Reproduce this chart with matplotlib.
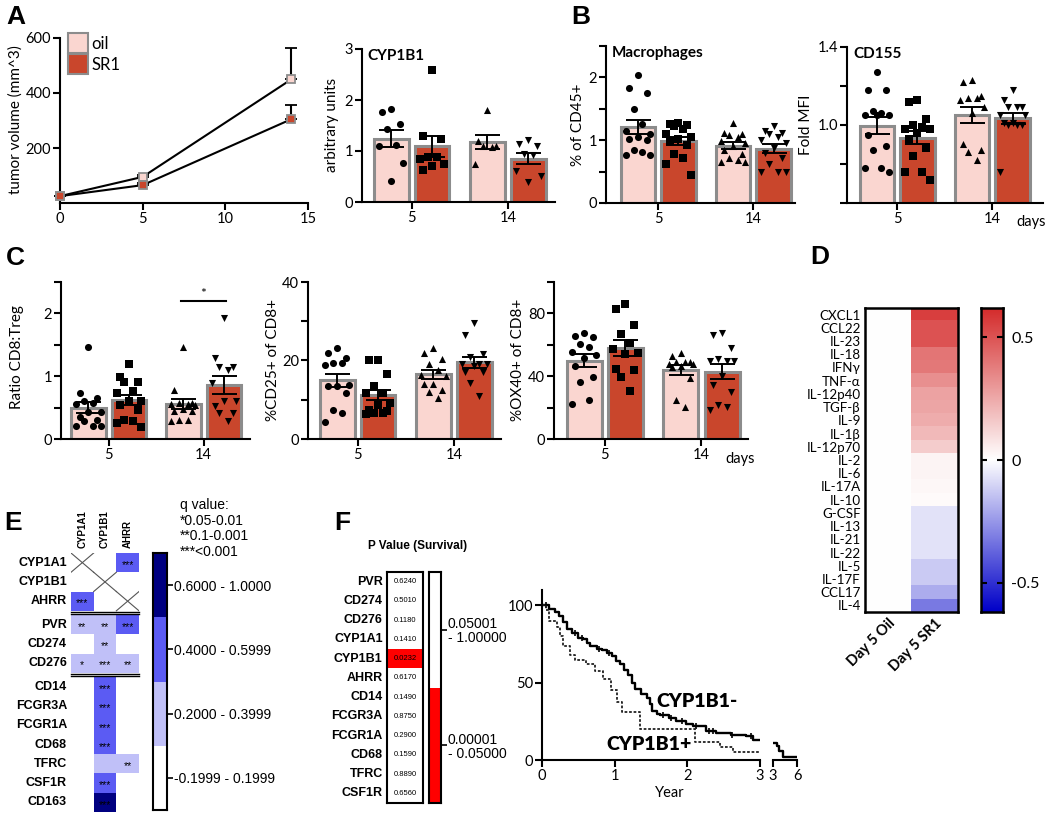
import numpy as np
import matplotlib
matplotlib.use('Agg')
import matplotlib.pyplot as plt
from matplotlib.colors import LinearSegmentedColormap
from matplotlib.patches import Rectangle
from matplotlib.lines import Line2D

W, H = 1050, 813
plt.rcParams['font.family'] = ['Lato', 'DejaVu Sans']
plt.rcParams['axes.linewidth'] = 1.5

# ---------------- data ----------------
# A: tumour volume
days = [0, 5, 14]
vol_oil = [25, 95, 450]
vol_oil_err = [0, 8, 115]
vol_sr1 = [25, 65, 305]
vol_sr1_err = [0, 6, 50]

# bar panels: groups are oil d5, SR1 d5, oil d14, SR1 d14
cyp_oil5 = [1.77, 1.83, 1.53, 1.44, 1.09, 1.12, 0.77, 0.41]
cyp_sr5 = [2.58, 1.30, 1.24, 0.88, 0.88, 0.85, 0.74, 0.71, 0.62]
cyp_oil14 = [1.80, 1.20, 1.10, 1.08, 1.10, 0.75]
cyp_sr14 = [1.21, 1.13, 1.10, 0.95, 0.92, 0.60, 0.50, 0.40]

mac_oil5 = [2.04, 1.83, 1.75, 1.50, 1.25, 1.15, 1.10, 1.05, 1.02, 1.00, 0.85, 0.82, 0.77, 0.77]
mac_sr5 = [1.27, 1.25, 1.24, 1.22, 1.18, 1.10, 1.05, 1.02, 0.98, 0.92, 0.78, 0.72, 0.62, 0.45]
mac_oil14 = [1.27, 1.12, 1.10, 1.08, 1.05, 0.98, 0.95, 0.90, 0.85, 0.78, 0.72, 0.68, 0.66, 0.65]
mac_sr14 = [1.22, 1.15, 1.12, 1.10, 1.05, 1.00, 0.95, 0.88, 0.80, 0.72, 0.62, 0.50, 0.50, 0.50]

cd155_oil5 = [1.27, 1.18, 1.18, 1.07, 1.06, 1.05, 1.05, 1.05, 0.95, 0.89, 0.87, 0.78, 0.76, 0.78]
cd155_sr5 = [1.13, 1.12, 1.03, 1.00, 0.99, 0.98, 0.96, 0.93, 0.88, 0.84, 0.76, 0.76, 0.72, 0.98]
cd155_oil14 = [1.23, 1.22, 1.15, 1.14, 1.14, 1.13, 1.09, 1.06, 0.90, 0.87, 0.86, 0.82]
cd155_sr14 = [1.18, 1.13, 1.09, 1.09, 1.09, 1.05, 1.05, 1.01, 1.00, 1.00, 1.00, 1.01, 0.76]

ratio_oil5 = [1.47, 0.74, 0.60, 0.58, 0.66, 0.56, 0.43, 0.43, 0.35, 0.30, 0.28, 0.21, 0.20, 0.21]
ratio_sr5 = [1.19, 0.99, 0.90, 0.90, 0.76, 0.73, 0.60, 0.60, 0.54, 0.46, 0.30, 0.26, 0.28, 0.19]
ratio_oil14 = [1.46, 0.78, 0.57, 0.55, 0.57, 0.54, 0.55, 0.47, 0.44, 0.44, 0.30, 0.29, 0.31]
ratio_sr14 = [1.93, 1.29, 1.15, 1.15, 1.10, 0.89, 0.60, 0.60, 0.52, 0.41, 0.41, 0.28]

cd25_oil5 = [23.2, 20.7, 21.9, 19.3, 18.9, 19.3, 13.7, 13.5, 13.5, 11.6, 7.3, 6.7, 4.4]
cd25_sr5 = [20.0, 20.2, 16.6, 11.7, 13.4, 11.6, 8.6, 9.2, 7.2, 7.5, 6.7, 6.3, 6.7]
cd25_oil14 = [21.9, 23.2, 20.4, 19.0, 17.5, 16.0, 16.2, 14.1, 14.1, 12.0, 10.5, 12.4]
cd25_sr14 = [29.5, 26.6, 21.7, 20.8, 19.2, 19.2, 18.7, 19.2, 17.0, 17.0, 14.3, 11.0]

ox40_oil5 = [67.8, 65.2, 65.7, 60.3, 58.8, 55.4, 51.8, 53.3, 46.4, 39.6, 36.1, 22.2, 25.0]
ox40_sr5 = [86.0, 82.8, 72.5, 66.7, 61.4, 57.5, 55.0, 53.9, 43.9, 44.9, 39.4, 30.4]
ox40_oil14 = [54.5, 52.8, 49.0, 49.0, 49.0, 48.0, 46.0, 46.4, 47.5, 38.9, 25.0, 20.3]
ox40_sr14 = [67.8, 66.1, 57.8, 51.1, 49.6, 49.6, 49.6, 40.4, 34.7, 29.7, 21.8, 20.7, 18.6]

# D: cytokine heatmap (Day 5 Oil is the reference = 0)
cytokines = ['CXCL1', 'CCL22', 'IL-23', 'IL-18', 'IFNγ', 'TNF-α', 'IL-12p40', 'TGF-β',
             'IL-9', 'IL-1β', 'IL-12p70', 'IL-2', 'IL-6', 'IL-17A', 'IL-10', 'G-CSF',
             'IL-13', 'IL-21', 'IL-22', 'IL-5', 'IL-17F', 'CCL17', 'IL-4']
cyto_oil = [0.0] * len(cytokines)
cyto_sr1 = [0.56, 0.50, 0.50, 0.40, 0.39, 0.32, 0.27, 0.26, 0.24, 0.20, 0.15, 0.03,
            0.03, 0.02, 0.01, -0.07, -0.07, -0.07, -0.07, -0.13, -0.13, -0.20, -0.32]
heat_cols = ['Day 5 Oil', 'Day 5 SR1']

# E: correlation matrix (level 0 none, 1 light, 2 medium, 3 dark, -1 diagonal)
e_rows = ['CYP1A1', 'CYP1B1', 'AHRR', 'PVR', 'CD274', 'CD276', 'CD14', 'FCGR3A',
          'FCGR1A', 'CD68', 'TFRC', 'CSF1R', 'CD163']
e_cols = ['CYP1A1', 'CYP1B1', 'AHRR']
e_level = [[-1, 0, 2], [0, -1, 0], [2, 0, -1], [1, 1, 2], [0, 1, 0], [1, 1, 1],
           [0, 2, 0], [0, 2, 0], [0, 2, 0], [0, 2, 0], [0, 1, 1], [0, 2, 0], [0, 3, 0]]
e_stars = [['', '', '***'], ['', '', ''], ['***', '', ''], ['**', '**', '***'],
           ['', '**', ''], ['*', '***', '**'], ['', '***', ''], ['', '***', ''],
           ['', '***', ''], ['', '***', ''], ['', '', '**'], ['', '***', ''], ['', '***', '']]
e_legend = ['-0.1999 - 0.1999', '0.2000 - 0.3999', '0.4000 - 0.5999', '0.6000 - 1.0000']

# F: survival p values
f_genes = ['PVR', 'CD274', 'CD276', 'CYP1A1', 'CYP1B1', 'AHRR', 'CD14', 'FCGR3A',
           'FCGR1A', 'CD68', 'TFRC', 'CSF1R']
f_pvals = ['0.6240', '0.5010', '0.1180', '0.1410', '0.0232', '0.6170', '0.1490',
           '0.8750', '0.2900', '0.1590', '0.8890', '0.6560']

km_neg_t = [0.00, 0.10, 0.18, 0.24, 0.29, 0.35, 0.41, 0.50, 0.56, 0.62, 0.66, 0.75, 0.82,
            0.90, 0.96, 1.02, 1.07, 1.13, 1.19, 1.24, 1.28, 1.36, 1.44, 1.48, 1.51, 1.58,
            1.62, 1.75, 1.85, 1.98, 2.08, 2.25, 2.40, 2.60, 2.81, 2.90, 3.00]
km_neg_s = [100, 98, 96, 93, 89, 85, 82, 79, 78.5, 76, 74, 72, 71, 69, 67, 64, 62, 58, 55,
            50, 46, 43, 40, 36, 32, 30, 29, 27, 25, 23, 21.7, 19, 17.4, 16.5, 15.3, 13, 12.8]
km_neg_cens = [0.05, 0.45, 0.55, 0.79, 0.92, 1.66, 1.78, 1.93, 2.12, 2.30, 2.36, 2.62, 2.88]
km_neg_t2 = [3.0, 3.5, 3.8, 4.2, 6.0]
km_neg_s2 = [11, 9, 6, 2, 2]
km_pos_t = [0.00, 0.06, 0.09, 0.20, 0.25, 0.29, 0.38, 0.45, 0.61, 0.73, 0.84, 0.95, 1.03,
            1.10, 1.35, 2.10, 2.45, 2.63, 3.00]
km_pos_s = [100, 97, 90, 86, 80, 73.5, 68, 65, 62, 57.8, 52.5, 45, 37.4, 31, 20.2, 11.6,
            8.4, 5.2, 5.2]

# ---------------- figure ----------------
fig = plt.figure(figsize=(W / 100, H / 100), dpi=100)

OIL_C, SR1_C, EDGE = '#fad6d0', '#c9462c', '#8c8c8c'
POS = [0, 1, 2.35, 3.35]
MARKERS = ['o', 's', '^', 'v']


def px_axes(x0, y0, x1, y1):
    return fig.add_axes([x0 / W, 1 - y1 / H, (x1 - x0) / W, (y1 - y0) / H])


def px_text(x, y, s, **kw):
    fig.text(x / W, 1 - y / H, s, **kw)


def clean(ax):
    ax.spines['top'].set_visible(False)
    ax.spines['right'].set_visible(False)
    ax.tick_params(direction='out', length=5, width=1.5, labelsize=10.5, pad=1.5)


def jitter(vals):
    pattern = np.array([0.0, -0.22, 0.22, -0.11, 0.11, -0.3, 0.3])
    order = np.argsort(-np.asarray(vals))
    offs = np.empty(len(vals))
    offs[order] = pattern[np.arange(len(vals)) % len(pattern)]
    return offs


def bar_panel(box, groups, xlim, ylim, yticks, ylabels, title=None, days_lbl=False):
    ax = px_axes(*box)
    for i, vals in enumerate(groups):
        vals = np.asarray(vals, dtype=float)
        m = vals.mean()
        sem = vals.std(ddof=1) / np.sqrt(len(vals))
        ax.bar(POS[i], m, width=0.85, color=[OIL_C, SR1_C][i % 2],
               edgecolor=EDGE, linewidth=2.2, zorder=1)
        ax.scatter(POS[i] + jitter(vals), vals, marker=MARKERS[i], s=26,
                   color='black', zorder=3, clip_on=False, linewidths=0)
        ax.errorbar(POS[i], m, yerr=sem, color='black', capsize=9, lw=1.4,
                    capthick=1.4, zorder=4)
    ax.set_xlim(*xlim)
    ax.set_ylim(*ylim)
    ax.set_yticks(yticks)
    ax.set_yticklabels(ylabels)
    ax.set_xticks([0.5, 2.85])
    ax.set_xticklabels(['5', '14'])
    clean(ax)
    if title:
        ax.text(0.03, 1.0, title, transform=ax.transAxes, fontsize=11,
                weight='bold', va='top', ha='left')
    if days_lbl:
        ax.text(3.8, -0.08, 'days', transform=ax.get_xaxis_transform(),
                fontsize=10.5, ha='center', va='top')
    return ax


# ---- A: tumour volume ----
ax = px_axes(60, 38, 308, 203)
ax.errorbar(days, vol_oil, yerr=[[0] * 3, vol_oil_err], color='black', lw=1.5,
            capsize=4, capthick=1.3, marker='s', ms=6, mfc=OIL_C, mec=EDGE,
            mew=1.3, clip_on=False, zorder=3)
ax.errorbar(days, vol_sr1, yerr=[[0] * 3, vol_sr1_err], color='black', lw=1.5,
            capsize=4, capthick=1.3, marker='s', ms=6, mfc=SR1_C, mec=EDGE,
            mew=1.3, clip_on=False, zorder=3)
ax.set_xlim(0, 15)
ax.set_ylim(0, 600)
ax.set_xticks([0, 5, 10, 15])
ax.set_yticks([200, 400, 600])
clean(ax)
handles = [Line2D([], [], marker='s', ls='', ms=15, mfc=OIL_C, mec=EDGE, mew=1.5),
           Line2D([], [], marker='s', ls='', ms=15, mfc=SR1_C, mec=EDGE, mew=1.5)]
fig.legend(handles, ['oil', 'SR1'], loc='upper left', bbox_to_anchor=(66 / W, 1 - 36 / H),
           frameon=False, fontsize=12, handletextpad=0.1, labelspacing=0.3,
           borderaxespad=0, borderpad=0, handlelength=1.4)
px_text(16, 120, 'tumor volume (mm^3)', rotation=90, ha='center', va='center', fontsize=11)

bar_panel((362, 49, 555, 202), [cyp_oil5, cyp_sr5, cyp_oil14, cyp_sr14],
          (-0.71, 4.0), (0, 3), [0, 1, 2, 3], ['0', '1', '2', '3'], title='CYP1B1')
px_text(332, 125, 'arbitrary units', rotation=90, ha='center', va='center', fontsize=11)

# ---- B ----
bar_panel((606, 46, 795, 203), [mac_oil5, mac_sr5, mac_oil14, mac_sr14],
          (-0.79, 3.88), (0, 2.5), [0, 0.5, 1, 1.5, 2, 2.5], ['0', '', '1', '', '2', ''],
          title='Macrophages')
px_text(578, 125, '% of CD45+', rotation=90, ha='center', va='center', fontsize=11)

bar_panel((847, 47, 1043, 203), [cd155_oil5, cd155_sr5, cd155_oil14, cd155_sr14],
          (-0.74, 4.1), (0.6, 1.4), [0.6, 0.8, 1.0, 1.2, 1.4], ['', '', '1.0', '', '1.4'],
          title='CD155', days_lbl=True)
px_text(806, 125, 'Fold MFI', rotation=90, ha='center', va='center', fontsize=11)

# ---- C ----
axc = bar_panel((61, 282, 250, 439), [ratio_oil5, ratio_sr5, ratio_oil14, ratio_sr14],
                (-0.68, 4.0), (0, 2.5), [0, 0.5, 1, 1.5, 2, 2.5], ['0', '', '1', '', '2', ''])
axc.plot([POS[2] - 0.05, POS[3] + 0.05], [2.2, 2.2], color='black', lw=1.5)
axc.text((POS[2] + POS[3]) / 2, 2.22, '*', ha='center', va='bottom', fontsize=10)
px_text(17, 357, 'Ratio CD8:Treg', rotation=90, ha='center', va='center', fontsize=11)

bar_panel((308, 282, 501, 439), [cd25_oil5, cd25_sr5, cd25_oil14, cd25_sr14],
          (-0.71, 4.0), (0, 40), [0, 10, 20, 30, 40], ['0', '', '20', '', '40'])
px_text(273, 360, '%CD25+ of CD8+', rotation=90, ha='center', va='center', fontsize=11)

bar_panel((554, 282, 748, 439), [ox40_oil5, ox40_sr5, ox40_oil14, ox40_sr14],
          (-0.73, 3.98), (0, 100), [0, 20, 40, 60, 80, 100], ['0', '', '40', '', '80', ''],
          days_lbl=True)
px_text(518, 360, '%OX40+ of CD8+', rotation=90, ha='center', va='center', fontsize=11)

# ---- D: heatmap ----
VMAX = 0.62
hcmap = LinearSegmentedColormap.from_list('bwr2', ['#0000c8', '#ffffff', '#d42a2a'])
axd = px_axes(865, 308, 958, 612)
grid = np.column_stack([cyto_oil, cyto_sr1])
axd.imshow(grid, cmap=hcmap, vmin=-VMAX, vmax=VMAX, aspect='auto', interpolation='nearest')
axd.set_yticks(range(len(cytokines)))
axd.set_yticklabels(cytokines, fontsize=9.6)
axd.set_xticks([0, 1])
axd.set_xticklabels(heat_cols, rotation=45, ha='right', rotation_mode='anchor',
                    fontsize=10.5, weight='bold')
axd.tick_params(length=0, pad=3)
for s in axd.spines.values():
    s.set_linewidth(1.8)

axcb = px_axes(981, 308, 1003, 612)
grad = np.linspace(VMAX, -VMAX, 256).reshape(-1, 1)
axcb.imshow(grad, cmap=hcmap, vmin=-VMAX, vmax=VMAX, aspect='auto',
            extent=[0, 1, -VMAX, VMAX])
axcb.set_xticks([])
axcb.set_yticks([-0.5, 0, 0.5])
axcb.set_yticklabels(['-0.5', '0', '0.5'])
axcb.yaxis.set_ticks_position('both')
axcb.tick_params(axis='y', direction='in', length=4, width=1.5, labelleft=False,
                 labelright=True, labelsize=11.5, pad=6)
for s in axcb.spines.values():
    s.set_linewidth(1.8)

# ---- E: correlation matrix ----
E_COLORS = {0: 'white', 1: '#c0c0f8', 2: '#5b5bf3', 3: '#000080'}
GAP = 0.22
e_y = [i + GAP * (i >= 3) + GAP * (i >= 6) for i in range(len(e_rows))]
axe = px_axes(71, 553, 139, 812)
axe.set_xlim(0, 3)
axe.set_ylim(len(e_rows) + 2 * GAP, 0)
axe.axis('off')
for i, row in enumerate(e_rows):
    y = e_y[i]
    for j in range(3):
        lvl = e_level[i][j]
        if lvl == -1:
            axe.plot([j, j + 1], [y, y + 1], color='#555555', lw=0.8)
            axe.plot([j, j + 1], [y + 1, y], color='#555555', lw=0.8)
        elif lvl > 0:
            axe.add_patch(Rectangle((j, y), 1, 1, fc=E_COLORS[lvl], ec='none'))
        if e_stars[i][j]:
            axe.text(j + 0.5, y + 0.62, e_stars[i][j], ha='center', va='center',
                     fontsize=7.5, color='black', family='Liberation Sans')
    axe.text(-0.18, y + 0.5, row, ha='right', va='center', fontsize=9,
             weight='bold', family='Liberation Sans', clip_on=False)
for k in (3, 6):
    mid = e_y[k] - GAP / 2
    for d in (-0.06, 0.06):
        axe.plot([0, 3], [mid + d, mid + d], color='black', lw=1.0, clip_on=False)
for j, col in enumerate(e_cols):
    axe.text(j + 0.5, -0.25, col, rotation=90, ha='center', va='bottom', fontsize=7,
             weight='bold', family='Liberation Sans', clip_on=False)

axel = px_axes(153, 553, 167, 810)
for k, lvl in enumerate([0, 1, 2, 3]):
    axel.add_patch(Rectangle((0, k), 1, 1, fc=E_COLORS[lvl], ec='none'))
axel.set_xlim(0, 1)
axel.set_ylim(0, 4)
axel.set_xticks([])
axel.set_yticks([0.5, 1.5, 2.5, 3.5])
axel.set_yticklabels(e_legend, fontfamily='Liberation Sans')
axel.yaxis.tick_right()
axel.tick_params(axis='y', direction='out', length=4, width=1.2, labelsize=10, pad=1)
for s in axel.spines.values():
    s.set_linewidth(1.5)
px_text(180, 498, 'q value:\n*0.05-0.01\n**0.1-0.001\n***<0.001', ha='left', va='top',
        fontsize=10, family='Liberation Sans', linespacing=1.15)

# ---- F: p value table ----
axf = px_axes(387, 572, 423, 803)
axf.set_xlim(0, 1)
axf.set_ylim(len(f_genes), 0)
axf.set_xticks([])
axf.set_yticks([])
for i, (g, p) in enumerate(zip(f_genes, f_pvals)):
    if float(p) < 0.05:
        axf.add_patch(Rectangle((0, i), 1, 1, fc='#ff0000', ec='none'))
    axf.text(0.5, i + 0.5, p, ha='center', va='center', fontsize=5.5,
             family='Liberation Sans')
    axf.text(-0.12, i + 0.5, g, ha='right', va='center', fontsize=9, weight='bold',
             family='Liberation Sans', clip_on=False)
for s in axf.spines.values():
    s.set_linewidth(1.5)
px_text(418, 546, 'P Value (Survival)', ha='center', va='center', fontsize=8.5,
        weight='bold', family='Liberation Sans')

axfl = px_axes(429, 572, 441, 803)
axfl.add_patch(Rectangle((0, 0), 1, 1, fc='#ff0000', ec='none'))
axfl.set_xlim(0, 1)
axfl.set_ylim(0, 2)
axfl.set_xticks([])
axfl.set_yticks([0.5, 1.5])
axfl.set_yticklabels(['0.00001\n- 0.05000', '0.05001\n- 1.00000'],
                     fontfamily='Liberation Sans', linespacing=1.0)
axfl.yaxis.tick_right()
axfl.tick_params(axis='y', direction='out', length=4, width=1.2, labelsize=10, pad=1)
for s in axfl.spines.values():
    s.set_linewidth(1.5)

# ---- F: Kaplan-Meier ----
axk = px_axes(542, 590, 760, 760)
axk.step(km_neg_t, km_neg_s, where='post', color='black', lw=1.7)
cens_idx = np.searchsorted(km_neg_t, km_neg_cens, side='right') - 1
axk.plot(km_neg_cens, np.asarray(km_neg_s)[cens_idx], ls='', marker='|', ms=5,
         mew=1.2, color='black')
axk.step(km_pos_t, km_pos_s, where='post', color='#222222', lw=1.3, ls=(0, (1.5, 1)))
axk.set_xlim(0, 3)
axk.set_ylim(0, 110)
axk.set_xticks([0, 1, 2, 3])
axk.set_yticks([0, 50, 100])
clean(axk)
axk.text(1.58, 38, 'CYP1B1-', fontsize=14, weight='heavy', va='center')
axk.text(0.88, 10, 'CYP1B1+', fontsize=14, weight='heavy', va='center')

axk2 = px_axes(773, 590, 797, 760)
axk2.step(km_neg_t2, km_neg_s2, where='post', color='black', lw=1.7)
axk2.set_xlim(3, 6)
axk2.set_ylim(0, 110)
axk2.set_xticks([3, 6])
axk2.set_yticks([])
clean(axk2)
axk2.spines['left'].set_visible(False)
px_text(670, 793, 'Year', ha='center', va='center', fontsize=10.5)

# ---- panel letters ----
for lbl, x, y in [('A', 6, 17), ('B', 571, 17), ('C', 6, 258), ('D', 810, 257),
                  ('E', 4, 523), ('F', 334, 523)]:
    px_text(x, y, lbl, fontsize=19, weight='heavy', ha='left', va='center',
            family='Liberation Sans')

fig.savefig('out.png', dpi=100)
